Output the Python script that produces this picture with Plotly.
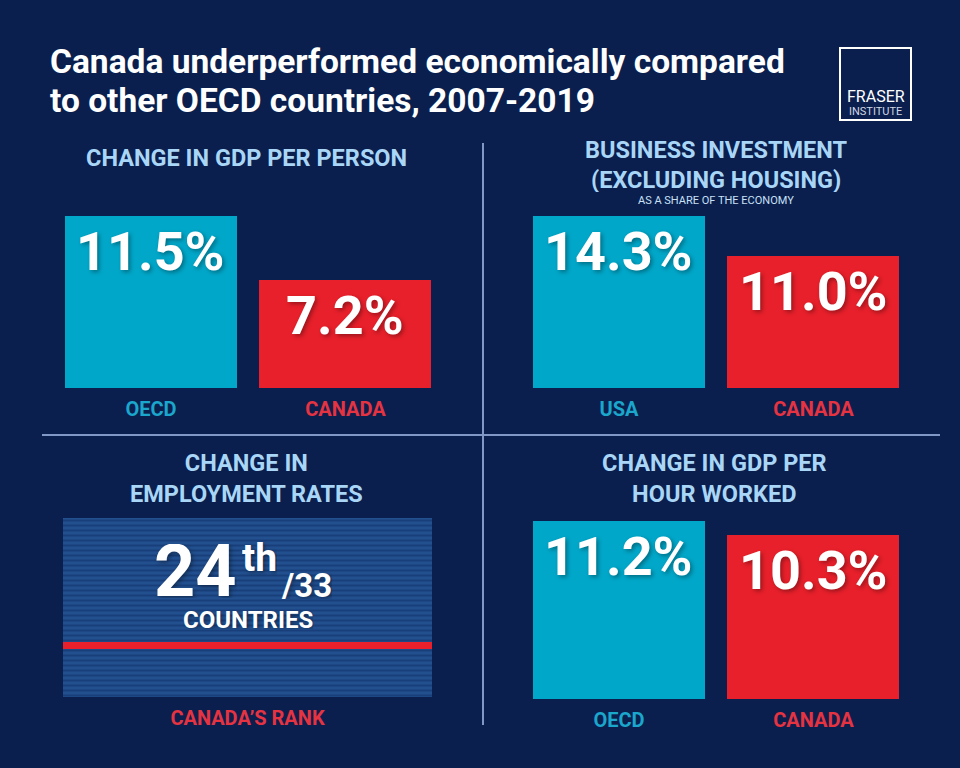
import plotly.graph_objects as go

# ---------------- data ----------------
gdp_person_cats = ["OECD", "CANADA"]
gdp_person_vals = [11.5, 7.2]

invest_cats = ["USA", "CANADA"]
invest_vals = [14.3, 11.0]

gdp_hour_cats = ["OECD", "CANADA"]
gdp_hour_vals = [11.2, 10.3]

employment_rank = 24
employment_total = 33
employment_label = ["CANADA’S RANK"]

title_lines = ["Canada underperformed economically compared", "to other OECD countries, 2007-2019"]

# ---------------- style ----------------
W, H = 960, 768
BG = "#0a1f4e"
CYAN = "#00a7c9"
RED = "#e8202b"
CYAN_TXT = "#1ba6cc"
RED_TXT = "#e63342"
TITLE_BLUE = "#a9d6f7"
FONT = "Roboto"
SHADOW = "2px 2px 4px rgba(0,0,0,0.35)"


def px_x(x):
    return x / W


def px_y(y):
    return 1 - y / H


def dom_x(a, b):
    return [px_x(a), px_x(b)]


def dom_y(top, bottom):
    return [px_y(bottom), px_y(top)]


fig = go.Figure()

XR = [-0.442, 1.445]
BW = 0.884


def colored(cats):
    out = []
    for c in cats:
        col = RED_TXT if c.upper() == "CANADA" else CYAN_TXT
        out.append(f'<span style="color:{col}">{c}</span>')
    return out


def bar_panel(idx, cats, vals):
    colors = [RED if c == "CANADA" else CYAN for c in cats]
    xa = f"x{idx}" if idx > 1 else "x"
    ya = f"y{idx}" if idx > 1 else "y"
    fig.add_trace(go.Bar(
        x=cats, y=vals, width=BW, marker=dict(color=colors, line=dict(width=0)),
        xaxis=xa, yaxis=ya, hoverinfo="skip", showlegend=False,
    ))
    for c, v in zip(cats, vals):
        fig.add_annotation(
            x=c, y=v, xref=xa, yref=ya,
            text=f"{v:.1f}%", showarrow=False, yanchor="top", xanchor="center", yshift=-2,
            font=dict(family=FONT, size=54, color="white", weight="bold", shadow=SHADOW),
        )


bar_panel(1, gdp_person_cats, gdp_person_vals)
bar_panel(2, invest_cats, invest_vals)
bar_panel(4, gdp_hour_cats, gdp_hour_vals)

# panel 3: striped box representing all countries + rank line
fig.add_trace(go.Bar(
    x=employment_label, y=[employment_total], base=0, width=1.0,
    marker=dict(color="#22508f", line=dict(width=0),
                pattern=dict(shape="-", fgcolor="#102d66", bgcolor="#22508f", size=5, solidity=0.4)),
    xaxis="x3", yaxis="y3", hoverinfo="skip", showlegend=False,
))
fig.add_shape(type="line", xref="x3 domain", yref="y3", x0=0, x1=1,
              y0=employment_rank - 0.5, y1=employment_rank - 0.5,
              line=dict(color=RED, width=7))

axis_common = dict(showgrid=False, zeroline=False, showline=False, fixedrange=True)
tickfont = dict(family=FONT, size=20, weight="bold")

fig.update_layout(
    xaxis=dict(domain=dom_x(65, 432), range=XR, anchor="y", tickmode="array",
               tickvals=gdp_person_cats, ticktext=colored(gdp_person_cats), ticks="",
               tickfont=tickfont, ticklabelstandoff=7, **axis_common),
    yaxis=dict(domain=dom_y(216, 388), range=[0, max(gdp_person_vals)], anchor="x",
               showticklabels=False, **axis_common),
    xaxis2=dict(domain=dom_x(533, 900), range=XR, anchor="y2", tickmode="array",
                tickvals=invest_cats, ticktext=colored(invest_cats), ticks="",
                tickfont=tickfont, ticklabelstandoff=7, **axis_common),
    yaxis2=dict(domain=dom_y(216, 388), range=[0, max(invest_vals)], anchor="x2",
                showticklabels=False, **axis_common),
    xaxis3=dict(domain=dom_x(63, 432), range=[-0.5, 0.5], anchor="y3", tickmode="array",
                tickvals=employment_label, ticktext=[f'<span style="color:{RED_TXT}">{employment_label[0]}</span>'],
                ticks="", tickfont=tickfont, ticklabelstandoff=7, **axis_common),
    yaxis3=dict(domain=dom_y(518, 697), range=[employment_total, 0], anchor="x3",
                showticklabels=False, **axis_common),
    xaxis4=dict(domain=dom_x(533, 900), range=XR, anchor="y4", tickmode="array",
                tickvals=gdp_hour_cats, ticktext=colored(gdp_hour_cats), ticks="",
                tickfont=tickfont, ticklabelstandoff=7, **axis_common),
    yaxis4=dict(domain=dom_y(521, 699), range=[0, max(gdp_hour_vals)], anchor="x4",
                showticklabels=False, **axis_common),
)

# ---------------- text ----------------
for line, yy in zip(title_lines, [62, 100]):
    fig.add_annotation(
        xref="paper", yref="paper", x=px_x(48), y=px_y(yy), xanchor="left", yanchor="middle",
        text=line, align="left", showarrow=False,
        font=dict(family=FONT, size=33.5, color="white", weight="bold"),
    )


def panel_title(x, y, text, size=23.5, color=TITLE_BLUE, weight="bold", height=None):
    fig.add_annotation(
        xref="paper", yref="paper", x=px_x(x), y=px_y(y), xanchor="center", yanchor="middle",
        text=text, showarrow=False, align="center", height=height,
        font=dict(family=FONT, size=size, color=color, weight=weight),
    )


panel_title(247, 158, "CHANGE IN GDP PER PERSON")
panel_title(716, 150, "BUSINESS INVESTMENT", height=24)
panel_title(716, 180, "(EXCLUDING HOUSING)", height=24)
panel_title(716, 200.5, "AS A SHARE OF THE ECONOMY", size=11, color="#c9e0f6", weight="normal", height=10)
panel_title(247, 478.5, "CHANGE IN<br>EMPLOYMENT RATES")
panel_title(714, 478.5, "CHANGE IN GDP PER<br>HOUR WORKED")

# rank text
fig.add_annotation(xref="paper", yref="paper", x=px_x(239), y=px_y(571), xanchor="right", yanchor="middle",
                   text=str(employment_rank), showarrow=False, height=54,
                   font=dict(family=FONT, size=72, color="white", weight="bold", shadow=SHADOW))
fig.add_annotation(xref="paper", yref="paper", x=px_x(240), y=px_y(558), xanchor="left", yanchor="middle",
                   text="th", showarrow=False, height=36,
                   font=dict(family=FONT, size=39, color="white", weight="bold", shadow=SHADOW))
fig.add_annotation(xref="paper", yref="paper", x=px_x(279), y=px_y(585), xanchor="left", yanchor="middle",
                   text=f"/{employment_total}", showarrow=False, height=28,
                   font=dict(family=FONT, size=33, color="white", weight="bold", shadow=SHADOW))
fig.add_annotation(xref="paper", yref="paper", x=px_x(248), y=px_y(620), xanchor="center", yanchor="middle",
                   text="COUNTRIES", showarrow=False, height=18,
                   font=dict(family=FONT, size=24, color="white", weight="bold", shadow=SHADOW))

# logo
fig.add_shape(type="rect", xref="paper", yref="paper", x0=px_x(840), x1=px_x(911), y0=px_y(120), y1=px_y(48),
              line=dict(color="white", width=2), fillcolor="rgba(0,0,0,0)")
fig.add_annotation(xref="paper", yref="paper", x=px_x(875.5), y=px_y(96), xanchor="center", yanchor="middle",
                   text="FRASER", showarrow=False, font=dict(family=FONT, size=16, color="white"))
fig.add_annotation(xref="paper", yref="paper", x=px_x(875.5), y=px_y(111), xanchor="center", yanchor="middle",
                   text="INSTITUTE", showarrow=False, font=dict(family=FONT, size=11, color="#d0d6e2"))

# dividers
DIV = "#7f98c6"
fig.add_shape(type="line", xref="paper", yref="paper", x0=px_x(483), x1=px_x(483), y0=px_y(143), y1=px_y(725),
              line=dict(color=DIV, width=2), layer="below")
fig.add_shape(type="line", xref="paper", yref="paper", x0=px_x(42), x1=px_x(940), y0=px_y(435), y1=px_y(435),
              line=dict(color=DIV, width=2), layer="below")

fig.update_layout(
    width=W, height=H, margin=dict(l=0, r=0, t=0, b=0),
    paper_bgcolor=BG, plot_bgcolor=BG, bargap=0, showlegend=False,
    font=dict(family=FONT),
)

fig.write_html("out.html", config={"displayModeBar": False},
               post_script="document.body.style.margin='0';")
